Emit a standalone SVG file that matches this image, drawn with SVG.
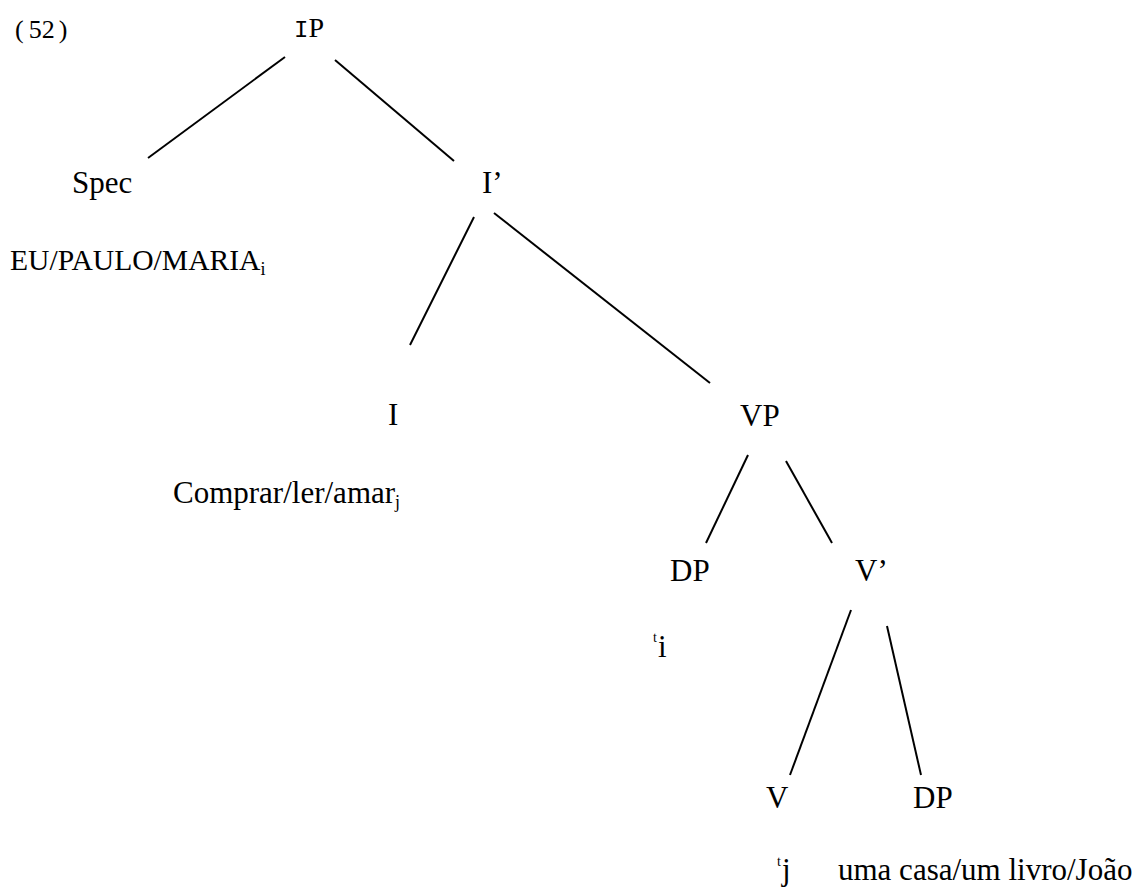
<svg xmlns="http://www.w3.org/2000/svg" width="1145" height="892" viewBox="0 0 1145 892">
<style>
text{font-family:"Liberation Serif","Times New Roman",serif;font-size:31px;fill:#000}
.sub{font-size:18px}
.sup{font-size:14px}
line{stroke:#000;stroke-width:2}
</style>
<rect width="1145" height="892" fill="#fff"/>
<text x="15" y="38" style="font-size:26px">(<tspan dx="5">52</tspan><tspan dx="4">)</tspan></text>
<g id="IP"><text x="294" y="37" style="font-size:28px"><tspan style="font-family:'Liberation Mono',monospace;font-size:24px">I</tspan>P</text></g>
<g id="Spec"><text x="72" y="193">Spec</text></g>
<g id="Iprime"><text x="482" y="193">I’</text></g>
<g id="EU"><text x="10" y="270" style="font-size:29.6px">EU/PAULO/MARIA<tspan class="sub" dy="5">i</tspan></text></g>
<g id="I"><text x="388" y="425">I</text></g>
<g id="VP"><text x="740" y="426">VP</text></g>
<g id="Comprar"><text x="173" y="503">Comprar/ler/amar<tspan class="sub" dy="5">j</tspan></text></g>
<g id="DP1"><text x="670" y="581">DP</text></g>
<g id="Vprime"><text x="855" y="581">V’</text></g>
<g id="ti"><text x="653" y="642"><tspan class="sup">t</tspan><tspan x="658" y="657">i</tspan></text></g>
<g id="V"><text x="766" y="808">V</text></g>
<g id="DP2"><text x="913" y="808">DP</text></g>
<g id="tj"><text x="777" y="866"><tspan class="sup">t</tspan><tspan x="782" y="880">j</tspan></text></g>
<g id="uma"><text x="838" y="880">uma casa/um livro/João</text></g>
<g id="connectors">
<line x1="285" y1="57" x2="148" y2="158"/>
<line x1="335" y1="60" x2="454" y2="161"/>
<line x1="474" y1="217" x2="410" y2="345"/>
<line x1="494" y1="213" x2="710" y2="383"/>
<line x1="748" y1="455" x2="706" y2="543"/>
<line x1="786" y1="461" x2="832" y2="543"/>
<line x1="851" y1="610" x2="790" y2="775"/>
<line x1="887" y1="626" x2="921" y2="775"/>
</g>
</svg>
